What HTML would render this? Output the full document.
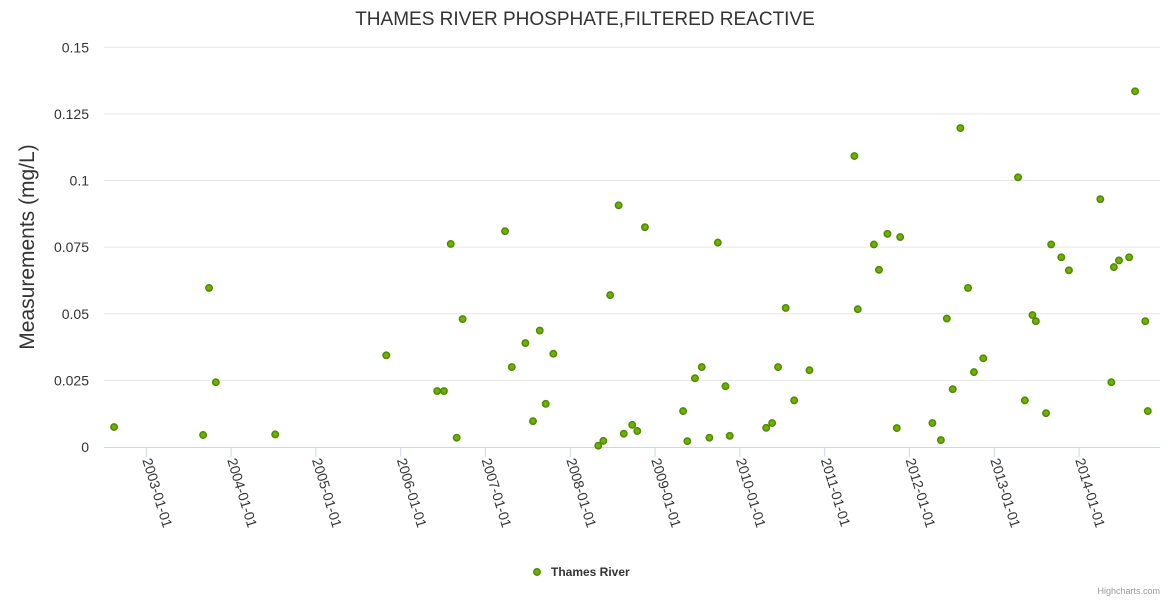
<!DOCTYPE html>
<html><head><meta charset="utf-8"><style>
body{margin:0;background:#fff;font-family:"Liberation Sans",sans-serif}
svg text{font-family:"Liberation Sans",sans-serif}
</style></head><body>
<svg id="chart" width="1170" height="600" xmlns="http://www.w3.org/2000/svg">
<text x="585" y="25" text-anchor="middle" font-size="19" fill="#333">THAMES RIVER PHOSPHATE,FILTERED REACTIVE</text>
<text transform="translate(34,247) rotate(-90)" text-anchor="middle" font-size="21" fill="#333">Measurements (mg/L)</text>
<g id="grid"></g><g id="xaxis"></g><g id="pts"></g>
<g>
<circle cx="537" cy="572" r="3.2" fill="#6fb000" stroke="#4f8a00" stroke-width="1.5"/>
<text x="551" y="576" font-size="12" font-weight="bold" fill="#333">Thames River</text>
</g>
<text x="1160" y="594" text-anchor="end" font-size="9" fill="#999">Highcharts.com</text>
</svg>
<script>
const yTicks=[0,0.025,0.05,0.075,0.1,0.125,0.15];
const yTickLabels=["0","0.025","0.05","0.075","0.1","0.125","0.15"];
const xTicks=[2003,2004,2005,2006,2007,2008,2009,2010,2011,2012,2013,2014];
const xTickLabels=["2003-01-01","2004-01-01","2005-01-01","2006-01-01","2007-01-01","2008-01-01","2009-01-01","2010-01-01","2011-01-01","2012-01-01","2013-01-01","2014-01-01"];
const dates=[2002.62,2003.67,2003.74,2003.82,2004.52,2005.83,2006.43,2006.51,2006.59,2006.66,2006.73,2007.23,2007.31,2007.47,2007.56,2007.64,2007.71,2007.80,2008.33,2008.39,2008.47,2008.57,2008.63,2008.73,2008.79,2008.88,2009.33,2009.38,2009.47,2009.55,2009.64,2009.74,2009.83,2009.88,2010.31,2010.38,2010.45,2010.54,2010.64,2010.82,2011.35,2011.39,2011.58,2011.64,2011.74,2011.85,2011.89,2012.27,2012.37,2012.44,2012.51,2012.60,2012.69,2012.76,2012.87,2013.28,2013.36,2013.45,2013.49,2013.61,2013.67,2013.79,2013.88,2014.25,2014.38,2014.41,2014.47,2014.59,2014.66,2014.78,2014.81];
const values=[0.0075,0.0045,0.0597,0.0243,0.0047,0.0344,0.0210,0.0210,0.0762,0.0035,0.0480,0.0810,0.0300,0.0390,0.0097,0.0437,0.0162,0.0350,0.0005,0.0023,0.0570,0.0907,0.0050,0.0083,0.0060,0.0825,0.0135,0.0022,0.0258,0.0300,0.0035,0.0767,0.0228,0.0042,0.0072,0.0090,0.0300,0.0522,0.0175,0.0288,0.1092,0.0517,0.0760,0.0665,0.0800,0.0071,0.0788,0.0090,0.0026,0.0482,0.0217,0.1197,0.0597,0.0281,0.0333,0.1012,0.0175,0.0495,0.0472,0.0127,0.0760,0.0712,0.0663,0.0930,0.0243,0.0675,0.0700,0.0712,0.1335,0.0472,0.0135];
const NS="http://www.w3.org/2000/svg";
const L=104,R=1160,T=47.3,B=447;
function xs(v){return 146.3+(v-2003)*84.8;}
function ys(v){return B-(v/0.15)*(B-T);}
function mk(tag,attrs,parent,txt){const e=document.createElementNS(NS,tag);for(const k in attrs)e.setAttribute(k,attrs[k]);if(txt!==undefined)e.textContent=txt;parent.appendChild(e);return e;}
const grid=document.getElementById('grid');
yTicks.forEach((t,i)=>{
  if(i>0){const g=mk('line',{x1:L,x2:R,y1:ys(t),y2:ys(t),stroke:'#e6e6e6','stroke-width':1},grid);
  
  }
  const tx=mk('text',{x:89,y:ys(t)+5,'text-anchor':'end','font-size':14,fill:'#333'},grid,yTickLabels[i]);
  
  
});
const xa=document.getElementById('xaxis');
const axl=mk('line',{x1:L,x2:R,y1:B+0.5,y2:B+0.5,stroke:'#ccd6eb','stroke-width':1},xa);


xTicks.forEach((t,i)=>{
  const x=xs(t);
  const tk=mk('line',{x1:x,x2:x,y1:B,y2:B+10,stroke:'#ccd6eb','stroke-width':1},xa);
  
  
  const tx=mk('text',{transform:`translate(${x-4},${B+13}) rotate(73)`,'font-size':14,fill:'#333'},xa,xTickLabels[i]);
  
  
});
const pts=document.getElementById('pts');
dates.forEach((d,i)=>{
  const c=mk('circle',{cx:xs(d),cy:ys(values[i]),r:3.2,fill:'#6fb000',stroke:'#4f8a00','stroke-width':1.5},pts);
  
  
});
</script>
</body></html>
